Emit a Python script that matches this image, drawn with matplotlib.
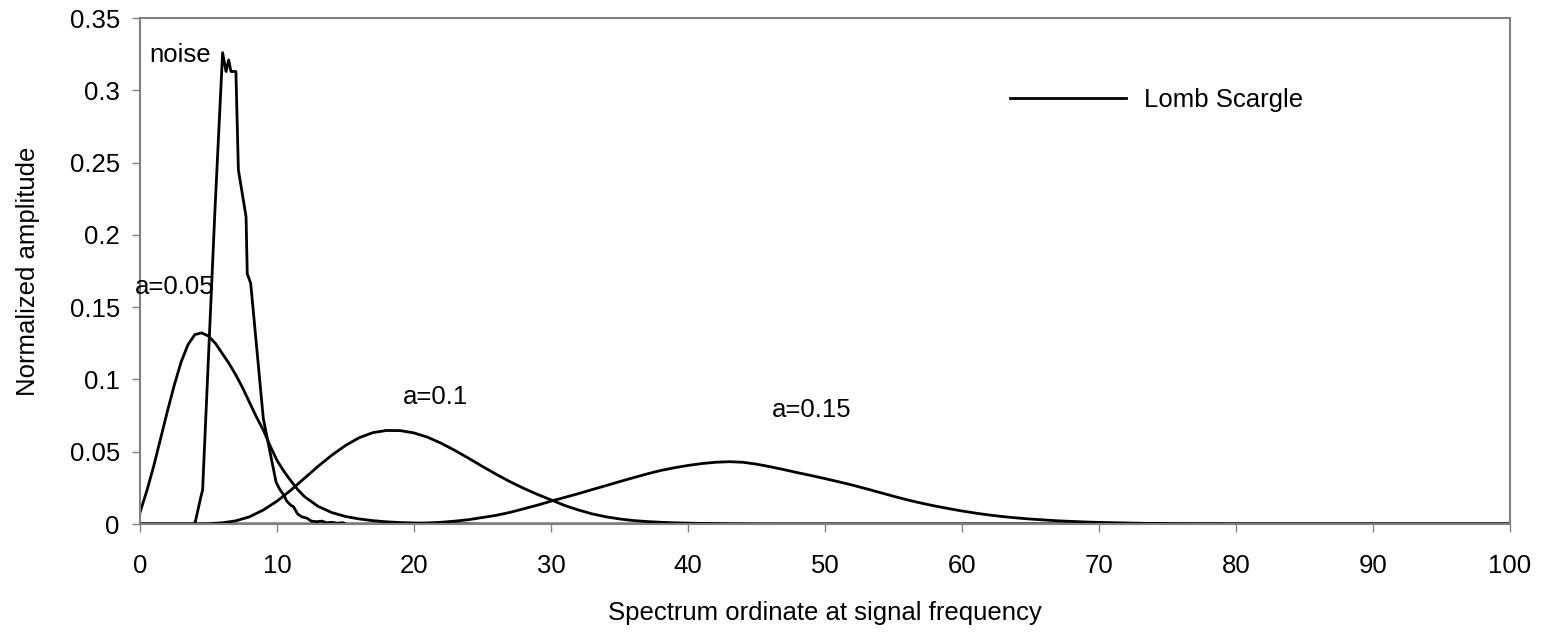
import matplotlib
matplotlib.use("Agg")
import matplotlib.pyplot as plt

plt.rcParams['font.family'] = ['Liberation Sans', 'DejaVu Sans']

# a=0.05 curve
a005_x = [0, 0.5, 1, 1.5, 2, 2.5, 3, 3.5, 4, 4.5, 5, 5.5, 6, 6.5, 7, 7.5, 8, 8.5,
          9, 9.5, 10, 10.5, 11, 11.5, 12, 13, 14, 15, 16, 17, 18, 19, 20, 21, 22,
          23, 24, 25, 100]
a005_y = [0.008, 0.023, 0.040, 0.059, 0.078, 0.096, 0.112, 0.124, 0.131, 0.1322,
          0.130, 0.125, 0.118, 0.111, 0.103, 0.094, 0.084, 0.074, 0.065, 0.054,
          0.044, 0.0365, 0.030, 0.024, 0.019, 0.0122, 0.0079, 0.0052, 0.0035,
          0.0023, 0.0015, 0.001, 0.0007, 0.0005, 0.0003, 0.0002, 0.0001, 0, 0]

# a=0.1 curve
a010_x = list(range(0, 47)) + [100]
a010_y = [0, 0, 0, 0, 0, 0.0002, 0.0008, 0.0022, 0.005, 0.0097,
          0.0158, 0.0233, 0.0316, 0.0399, 0.0476, 0.0543, 0.0597, 0.0632, 0.0647, 0.0646,
          0.0630, 0.0600, 0.0558, 0.0508, 0.0454, 0.0398, 0.0344, 0.0293, 0.0247, 0.0205,
          0.0167, 0.0128, 0.0097, 0.0070, 0.0050, 0.0035, 0.0024, 0.0017, 0.0012, 0.0008,
          0.0006, 0.0004, 0.0003, 0.0002, 0.0001, 0.00005, 0, 0]

# a=0.15 curve
a015_x = [0] + list(range(15, 81)) + [100]
a015_y = [0, 0, 0, 0.00005, 0.0001, 0.0002, 0.0003, 0.0007, 0.0012, 0.002, 0.003,
          0.0045, 0.006, 0.008, 0.0105, 0.013, 0.0158, 0.0184, 0.021, 0.0238, 0.0265,
          0.0293, 0.032, 0.0346, 0.037, 0.0389, 0.0405, 0.0418, 0.0427, 0.0431, 0.0427,
          0.0414, 0.0396, 0.0376, 0.0355, 0.0335, 0.0314, 0.0292, 0.0269, 0.0244, 0.0218,
          0.0192, 0.0167, 0.0145, 0.0125, 0.0107, 0.009, 0.0075, 0.0062, 0.0051, 0.0042,
          0.0034, 0.0028, 0.0022, 0.0018, 0.0014, 0.0011, 0.0009, 0.0007, 0.0005, 0.0004,
          0.0003, 0.0002, 0.00015, 0.0001, 0.00005, 0, 0]

# noise distribution
noise_x = [0, 4.0, 4.45, 4.57, 5.47, 6.03, 6.28, 6.47, 6.64, 7.0, 7.18, 7.74, 7.83,
           8.08, 9.0, 9.93, 10.2, 10.5, 10.7, 11.0, 11.2, 11.5, 11.8, 12.2, 12.5,
           12.9, 13.3, 13.6, 14.0, 14.4, 14.8, 15.0]
noise_y = [0, 0, 0.019, 0.0235, 0.217, 0.326, 0.313, 0.321, 0.313, 0.313, 0.245,
           0.2126, 0.173, 0.1665, 0.073, 0.029, 0.024, 0.020, 0.016, 0.013, 0.012,
           0.007, 0.005, 0.004, 0.002, 0.0016, 0.002, 0.0008, 0.0012, 0.0005, 0.0009, 0]

x_ticks = [0, 10, 20, 30, 40, 50, 60, 70, 80, 90, 100]
y_ticks = [0, 0.05, 0.1, 0.15, 0.2, 0.25, 0.3, 0.35]
y_ticklabels = ['0', '0.05', '0.1', '0.15', '0.2', '0.25', '0.3', '0.35']

fig = plt.figure(figsize=(15.43, 6.34), dpi=100)
ax = fig.add_axes([140 / 1543, 110 / 634, 1370 / 1543, 506 / 634])

lw = 2.0
ax.plot(a005_x, a005_y, color='black', lw=lw, label='Lomb Scargle')
ax.plot(a010_x, a010_y, color='black', lw=lw)
ax.plot(a015_x, a015_y, color='black', lw=lw)
ax.plot(noise_x, noise_y, color='black', lw=lw)

ax.set_xlim(0, 100)
ax.set_ylim(0, 0.35)
ax.set_xticks(x_ticks)
ax.set_yticks(y_ticks)
ax.set_yticklabels(y_ticklabels)
ax.tick_params(axis='both', direction='out', length=5.5, width=1, color='#808080',
               labelsize=18.5)
ax.tick_params(axis='x', pad=16)
ax.tick_params(axis='y', pad=9)
for s in ax.spines.values():
    s.set_color('#808080')
    s.set_linewidth(1.5)

ax.set_xlabel('Spectrum ordinate at signal frequency', fontsize=18.5, labelpad=17)
ax.set_ylabel('Normalized amplitude', fontsize=18.5, labelpad=21)

fs = 18.5
ax.text(0.7, 0.3245, 'noise', fontsize=fs, va='center', ha='left')
ax.text(-0.36, 0.164, 'a=0.05', fontsize=fs, va='center', ha='left')
ax.text(19.2, 0.0878, 'a=0.1', fontsize=fs, va='center', ha='left')
ax.text(46.1, 0.079, 'a=0.15', fontsize=fs, va='center', ha='left')

ax.legend(loc='center left', bbox_to_anchor=(63.5, 0.2933),
          bbox_transform=ax.transData, frameon=False, fontsize=fs,
          handlelength=4.5, handletextpad=0.7, borderpad=0, borderaxespad=0)

fig.savefig('out.png', dpi=100)
